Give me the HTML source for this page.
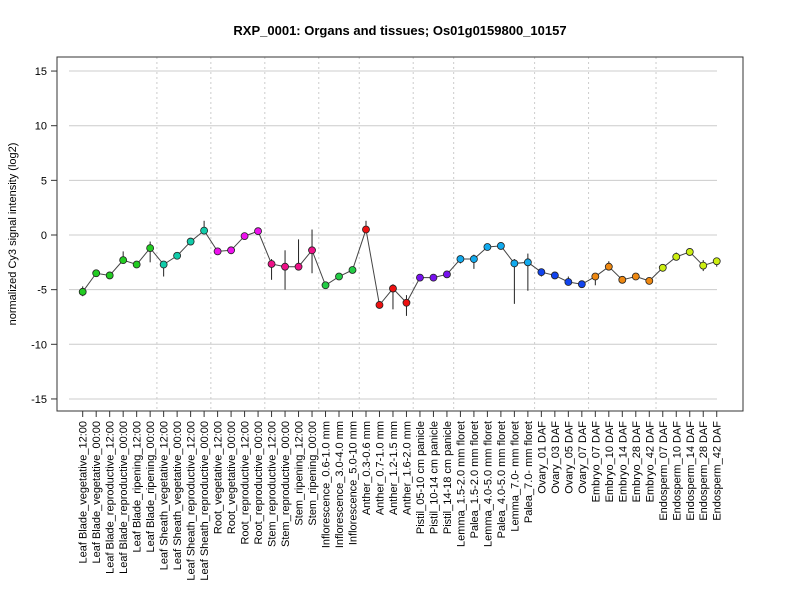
<!DOCTYPE html>
<html><head><meta charset="utf-8"><style>
body{margin:0;background:#fff;font-family:"Liberation Sans",sans-serif}
</style></head><body>
<svg id="c" width="800" height="600" xmlns="http://www.w3.org/2000/svg" font-family="Liberation Sans, sans-serif">
<text x="400" y="35" text-anchor="middle" font-weight="bold" font-size="13">RXP_0001: Organs and tissues; Os01g0159800_10157</text>
<text transform="translate(16,234) rotate(-90)" text-anchor="middle" font-size="11">normalized Cy3 signal intensity (log2)</text>
<g id="grid"></g><g id="marks"></g>
<rect x="57" y="57" width="686" height="354" fill="none" stroke="#333"/>
</svg>
<script>
const categories=["Leaf Blade_vegetative_12:00","Leaf Blade_vegetative_00:00","Leaf Blade_reproductive_12:00","Leaf Blade_reproductive_00:00","Leaf Blade_ripening_12:00","Leaf Blade_ripening_00:00","Leaf Sheath_vegetative_12:00","Leaf Sheath_vegetative_00:00","Leaf Sheath_reproductive_12:00","Leaf Sheath_reproductive_00:00","Root_vegetative_12:00","Root_vegetative_00:00","Root_reproductive_12:00","Root_reproductive_00:00","Stem_reproductive_12:00","Stem_reproductive_00:00","Stem_ripening_12:00","Stem_ripening_00:00","Inflorescence_0.6-1.0 mm","Inflorescence_3.0-4.0 mm","Inflorescence_5.0-10 mm","Anther_0.3-0.6 mm","Anther_0.7-1.0 mm","Anther_1.2-1.5 mm","Anther_1.6-2.0 mm","Pistil_05-10 cm panicle","Pistil_10-14 cm panicle","Pistil_14-18 cm panicle","Lemma_1.5-2.0 mm floret","Palea_1.5-2.0 mm floret","Lemma_4.0-5.0 mm floret","Palea_4.0-5.0 mm floret","Lemma_7.0- mm floret","Palea_7.0- mm floret","Ovary_01 DAF","Ovary_03 DAF","Ovary_05 DAF","Ovary_07 DAF","Embryo_07 DAF","Embryo_10 DAF","Embryo_14 DAF","Embryo_28 DAF","Embryo_42 DAF","Endosperm_07 DAF","Endosperm_10 DAF","Endosperm_14 DAF","Endosperm_28 DAF","Endosperm_42 DAF"];
const values=[-5.2,-3.5,-3.7,-2.3,-2.7,-1.2,-2.7,-1.9,-0.6,0.4,-1.5,-1.4,-0.1,0.35,-2.65,-2.9,-2.9,-1.4,-4.6,-3.8,-3.2,0.5,-6.4,-4.9,-6.2,-3.9,-3.9,-3.6,-2.2,-2.2,-1.1,-1.0,-2.6,-2.5,-3.4,-3.7,-4.3,-4.5,-3.8,-2.9,-4.1,-3.8,-4.2,-3.0,-2.0,-1.55,-2.8,-2.4];
const errLow=[-5.6,-3.7,-3.9,-2.6,-2.9,-2.5,-3.8,-2.1,-0.8,0.1,-1.7,-1.6,-0.3,0.2,-4.1,-5.0,-3.1,-3.5,-4.9,-4.0,-3.4,0.2,-6.6,-6.8,-7.4,-4.1,-4.1,-3.8,-2.6,-3.1,-1.3,-1.2,-6.3,-5.1,-3.8,-3.9,-4.6,-4.8,-4.6,-3.1,-4.3,-4.0,-4.5,-3.2,-2.3,-1.7,-3.3,-2.9];
const errHigh=[-4.7,-3.3,-3.5,-1.5,-2.5,-0.6,-2.5,-1.7,-0.4,1.3,-1.3,-1.2,0.1,0.5,-2.2,-1.4,-0.4,0.5,-4.4,-3.6,-3.0,1.3,-6.2,-4.5,-5.5,-3.7,-3.7,-3.4,-2.0,-1.8,-0.9,-0.8,-2.2,-1.7,-3.2,-3.4,-3.8,-4.2,-3.5,-2.4,-3.9,-3.6,-3.9,-2.8,-1.6,-1.35,-2.3,-2.1];
const groupEnds=[6,10,14,18,21,25,28,34,38,43];
const groupColors=["#22cc22","#11ccaa","#ee11ee","#ee1188","#22cc44","#ee1111","#7711ee","#11aaee","#1144ee","#ee8811","#ccee11"];
const yTicks=[-15,-10,-5,0,5,10,15];
const NS="http://www.w3.org/2000/svg";
const X0=82.7,DX=13.49,Y0=235,DY=10.93;
function xs(i){return X0+i*DX}
function ys(v){return Y0-v*DY}
function mk(t,a,p){const e=document.createElementNS(NS,t);for(const k in a)e.setAttribute(k,a[k]);p.appendChild(e);return e}
const grid=document.getElementById('grid'),marks=document.getElementById('marks'),svg=document.getElementById('c');
yTicks.forEach(t=>{
 const l=mk('line',{x1:69,x2:717,y1:ys(t),y2:ys(t),stroke:'#ccc'},grid);
 
 
 const tk=mk('line',{x1:51,x2:57,y1:ys(t),y2:ys(t),stroke:'#333'},svg);
 
 
 const tx=mk('text',{x:47,y:ys(t)+4,'text-anchor':'end','font-size':11},svg);
 tx.textContent=t;
 
 
});
groupEnds.forEach(g=>{
 const x=xs(g-0.5);
 const l=mk('line',{x1:x,x2:x,y1:57,y2:411,stroke:'#ccc','stroke-dasharray':'2,3'},grid);
 
 
});
function groupOf(i){let g=0;while(g<groupEnds.length&&i>=groupEnds[g])g++;return g}
let d='';
values.forEach((v,i)=>{d+=(i?'L':'M')+xs(i)+' '+ys(v)});
const path=mk('path',{d:d,fill:'none',stroke:'#444','stroke-width':1},marks);


categories.forEach((c,i)=>{
 const x=xs(i);
 const e=mk('line',{x1:x,x2:x,y1:ys(errLow[i]),y2:ys(errHigh[i]),stroke:'#222'},marks);
 
 
 const p=mk('circle',{cx:x,cy:ys(values[i]),r:3.5,fill:groupColors[groupOf(i)],stroke:'#222','stroke-width':0.8},marks);
 
 
 const tk=mk('line',{x1:x,x2:x,y1:411,y2:417,stroke:'#333'},svg);
 
 
 const t=mk('text',{transform:`translate(${x+4},421) rotate(-90)`,'text-anchor':'end','font-size':11},svg);
 t.textContent=c;
 
 
});
</script>
</body></html>
